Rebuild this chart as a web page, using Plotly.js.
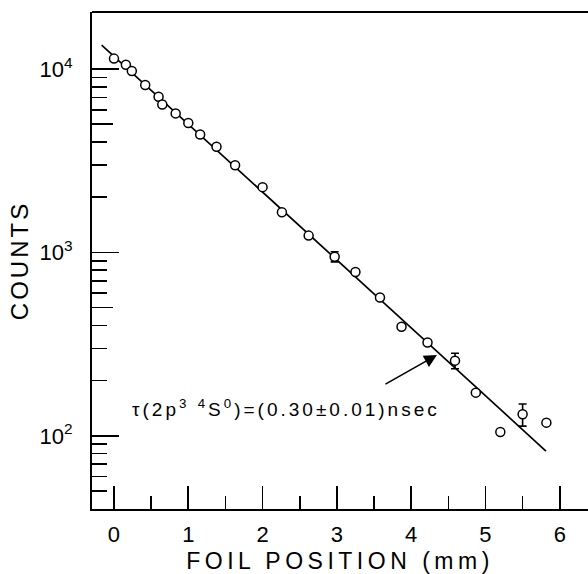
<!DOCTYPE html>
<html>
<head>
<meta charset="utf-8">
<script src="https://cdn.plot.ly/plotly-3.0.1.min.js"></script>
<style>
  body { margin: 0; background: #fff; }
  #chart { width: 588px; height: 574px; }
  .xtitle { letter-spacing: 4.5px; }
  .ytitle { letter-spacing: 3px; }
  .annotation-text { letter-spacing: 3px; }
</style>
</head>
<body>
<div id="chart"></div>
<script>
// Foil position (mm) of each measured point
const foilPosition = [0.00, 0.16, 0.24, 0.42, 0.60, 0.65, 0.83, 1.00, 1.16, 1.38, 1.63, 2.00,
                      2.26, 2.62, 2.97, 3.25, 3.58, 3.87, 4.22, 4.59, 4.87, 5.20, 5.50, 5.82];
// Counts at each foil position
const counts = [11400, 10550, 9750, 8180, 7055, 6400, 5730, 5080, 4400, 3770, 2985, 2270,
                1655, 1235, 948, 782, 568, 393, 323, 257, 172, 105, 131, 118];
// Error bars (counts), null = no bar drawn
const countsErr = [null, null, null, null, null, null, null, null, null, null, null, null,
                   null, null, 60, null, null, null, null, 25, null, null, 18, null];
// Fitted exponential decay line end points
const fitPosition = [-0.166, 5.814];
const fitCounts = [13520, 82.6];

// Axis ticks
const xMajorTicks = [0, 1, 2, 3, 4, 5, 6];
const xMinorTicks = [0.5, 1.5, 2.5, 3.5, 4.5, 5.5];
const yMajorTicks = [100, 1000, 10000];
const yMajorLabels = ['10<sup>2</sup>', '10<sup>3</sup>', '10<sup>4</sup>'];
const yMinorTicks = [50, 60, 70, 80, 90, 200, 300, 400, 600, 700, 800, 900,
                     2000, 3000, 4000, 6000, 7000, 8000, 9000];
const yMidTicks = [500, 5000];

const annotationText = '\u03c4(2p<sup>3</sup> <sup>4</sup>S<sup>0</sup>)=(0.30\u00b10.01)nsec';

const xRange = [-0.296, 6.38];
const yRange = [1.601, 4.311];
const font = 'Liberation Sans, Arial, sans-serif';

const traces = [
  {
    x: fitPosition, y: fitCounts, type: 'scatter', mode: 'lines',
    line: {color: 'black', width: 1.7}, hoverinfo: 'skip'
  },
  {
    x: foilPosition, y: counts, type: 'scatter', mode: 'markers',
    marker: {symbol: 'circle', size: 9, color: 'white', line: {color: 'black', width: 1.5}},
    error_y: {type: 'data', array: countsErr, symmetric: true, width: 4, thickness: 1.6, color: 'black'}
  },
  {
    x: [], y: [], yaxis: 'y2', type: 'scatter', mode: 'markers', showlegend: false
  }
];

const layout = {
  width: 588, height: 574,
  margin: {l: 92, r: 0, t: 12, b: 65},
  paper_bgcolor: 'white', plot_bgcolor: 'white',
  showlegend: false,
  font: {family: font, color: 'black'},
  xaxis: {
    range: xRange, showgrid: false, zeroline: false,
    showline: true, linecolor: 'black', linewidth: 2, mirror: false,
    tickmode: 'array', tickvals: xMajorTicks,
    ticks: 'inside', ticklen: 23, tickwidth: 1.6, tickcolor: 'black',
    ticklabelstandoff: 5,
    tickfont: {family: font, size: 22, color: 'black'},
    minor: {tickmode: 'array', tickvals: xMinorTicks, ticks: 'inside', ticklen: 13, tickwidth: 1.6, tickcolor: 'black', showgrid: false},
    title: {text: 'FOIL POSITION (mm)', font: {family: font, size: 23, color: 'black'}, standoff: 9}
  },
  yaxis: {
    type: 'log', range: yRange, showgrid: false, zeroline: false,
    showline: true, linecolor: 'black', linewidth: 2, mirror: false,
    tickmode: 'array', tickvals: yMajorTicks, ticktext: yMajorLabels,
    ticks: 'inside', ticklen: 27, tickwidth: 1.6, tickcolor: 'black',
    ticklabelstandoff: 13,
    tickfont: {family: font, size: 22, color: 'black'},
    minor: {tickmode: 'array', tickvals: yMinorTicks, ticks: 'inside', ticklen: 15, tickwidth: 1.6, tickcolor: 'black', showgrid: false},
    title: {text: 'COUNTS', font: {family: font, size: 24, color: 'black'}, standoff: 4}
  },
  yaxis2: {
    type: 'log', range: yRange, overlaying: 'y', side: 'left', anchor: 'x',
    showgrid: false, zeroline: false, showline: false,
    tickmode: 'array', tickvals: yMidTicks, showticklabels: false,
    ticks: 'inside', ticklen: 21, tickwidth: 1.6, tickcolor: 'black'
  },
  shapes: [
    {type: 'line', xref: 'paper', yref: 'paper', x0: 0, x1: 1, y0: 1, y1: 1, line: {color: 'black', width: 2}}
  ],
  annotations: [
    {
      x: 0.215, y: 2.1516, xref: 'x', yref: 'y', xanchor: 'left', yanchor: 'middle',
      text: annotationText, showarrow: false,
      font: {family: font, size: 19, color: 'black'}
    },
    {
      x: 4.347, y: 2.4406, xref: 'x', yref: 'y', text: '', showarrow: true,
      ax: -53, ay: 30, arrowhead: 2, arrowsize: 1.6, arrowwidth: 1.6, arrowcolor: 'black'
    }
  ]
};

Plotly.newPlot('chart', traces, layout, {staticPlot: true, displayModeBar: false});
</script>
</body>
</html>
